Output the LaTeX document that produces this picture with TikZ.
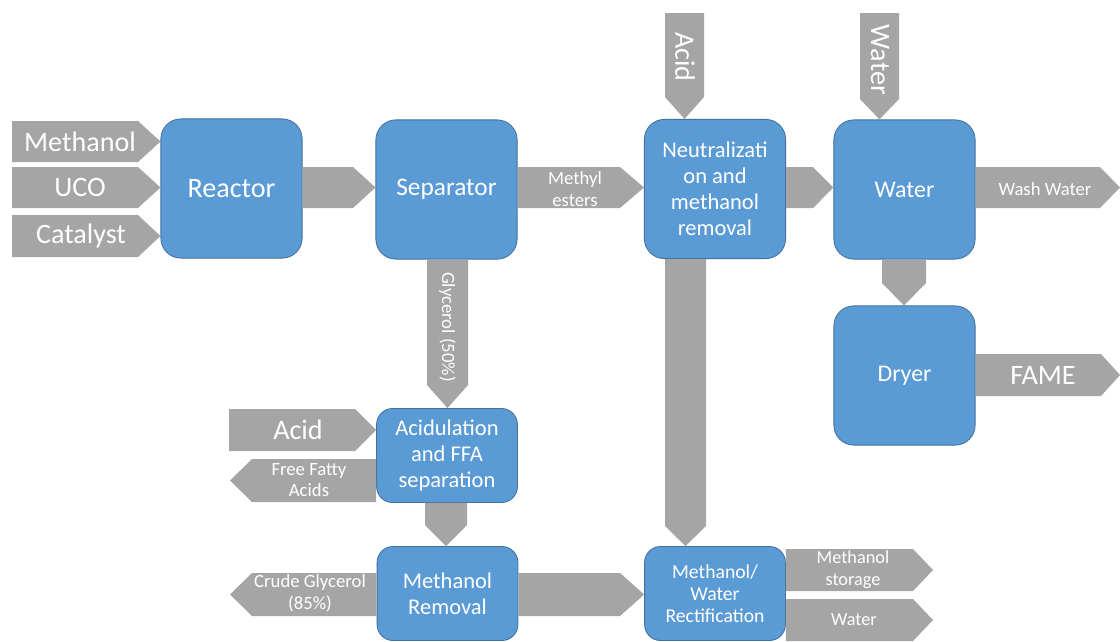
\documentclass[tikz,border=0pt]{standalone}
\usepackage{fontspec}
\setmainfont{Carlito}
\definecolor{boxblue}{HTML}{5B9BD5}
\definecolor{boxedge}{HTML}{41719C}
\definecolor{flowgray}{HTML}{A5A5A5}
\tikzset{
  unit/.style={draw=boxedge, line width=0.6pt, fill=boxblue, rounded corners=0.5cm,
    text=white, align=center, inner sep=0pt},
  bigunit/.style={unit, minimum width=3.53cm, minimum height=3.48cm},
  smallunit/.style={unit, minimum width=3.52cm, minimum height=2.35cm, rounded corners=0.4cm},
  flow/.style={fill=flowgray},
  flowtext/.style={text=white, align=center, inner sep=0pt},
  hugetxt/.style={font=\fontsize{20}{24}\selectfont},
  bigtxt/.style={font=\fontsize{16}{18.5}\selectfont},
  midtxt/.style={font=\fontsize{14}{15.8}\selectfont},
  lowtxt/.style={font=\fontsize{13}{15.8}\selectfont},
  smalltxt/.style={font=\fontsize{13.3}{15.5}\selectfont}
}
\begin{document}
\begin{tikzpicture}[x=0.025cm, y=-0.025cm]
\useasboundingbox (0,0) rectangle (1120,641);

% process units
\node[bigunit, hugetxt] (reactor) at (231.5,188.5) {Reactor};
\node[bigunit, font=\fontsize{18}{20}\selectfont] (sep) at (446.5,189.5) {Separator};
\node[bigunit, bigtxt] (neut) at (715,189) {Neutralizati\\on and\\methanol\\removal};
\node[bigunit, font=\fontsize{17}{20}\selectfont] (wash) at (904.5,189.5) {Water};
\node[bigunit, font=\fontsize{17}{20}\selectfont] (dryer) at (904.5,375.5) {Dryer};
\node[smallunit, bigtxt] (acidul) at (447,455.5) {Acidulation\\and FFA\\separation};
\node[smallunit, bigtxt] (mremove) at (447.5,593.5) {Methanol\\Removal};
\node[smallunit, midtxt] (rect) at (715,593.5) {Methanol/\\Water\\Rectification};

% feed streams into the reactor
\fill[flow] (12,121) -- (138,121) -- (reactor.west |- 0,141.5) -- (138,162) -- (12,162) -- cycle;
\fill[flow] (12,167) -- (138,167) -- (reactor.west |- 0,187.5) -- (138,208) -- (12,208) -- cycle;
\fill[flow] (12,215) -- (138,215) -- (reactor.west |- 0,236) -- (138,257) -- (12,257) -- cycle;
\node[flowtext, hugetxt] (tmeoh) at (80,141.5) {Methanol};
\node[flowtext, hugetxt] (tuco) at (80,187.5) {UCO};
\node[flowtext, hugetxt] (tcat) at (81,236) {Catalyst};

% reactor -> separator
\fill[flow] (reactor.east |- 0,167) -- (353,167) -- (sep.west |- 0,187.5) -- (353,208) -- (reactor.east |- 0,208) -- cycle;

% separator -> neutralization
\fill[flow] (sep.east |- 0,167) -- (620,167) -- (neut.west |- 0,187.5) -- (620,208) -- (sep.east |- 0,208) -- cycle;
\node[flowtext, smalltxt] (tme) at (575,189) {Methyl\\esters};

% neutralization -> washing
\fill[flow] (neut.east |- 0,167) -- (813,167) -- (wash.west |- 0,187.5) -- (813,208) -- (neut.east |- 0,208) -- cycle;

% wash water out
\fill[flow] (wash.east |- 0,167) -- (1100,167) -- (1120,187.5) -- (1100,208) -- (wash.east |- 0,208) -- cycle;
\node[flowtext, smalltxt] (tww) at (1045,189) {Wash Water};

% acid into neutralization
\fill[flow] (665,13) -- (704,13) -- (704,97) -- (neut.north -| 684.5,0) -- (665,97) -- cycle;
\node[flowtext, hugetxt, rotate=-90] (tacid1) at (685,57) {Acid};

% water into washing
\fill[flow] (860,13) -- (899,13) -- (899,99) -- (wash.north -| 879.5,0) -- (860,99) -- cycle;
\node[flowtext, hugetxt, rotate=-90] (twat1) at (880,60) {Water};

% washing -> dryer
\fill[flow] (wash.south -| 882,0) -- (wash.south -| 926,0) -- (926,283) -- (dryer.north -| 904,0) -- (882,283) -- cycle;

% FAME product
\fill[flow] (dryer.east |- 0,354) -- (1101,354) -- (1120,375) -- (1101,396) -- (dryer.east |- 0,396) -- cycle;
\node[flowtext, hugetxt] (tfame) at (1043,375.5) {FAME};

% glycerol phase down to acidulation
\fill[flow] (sep.south -| 427,0) -- (sep.south -| 468,0) -- (468,385) -- (acidul.north -| 447.5,0) -- (427,385) -- cycle;
\node[flowtext, smalltxt, rotate=-90] (tgly) at (447.5,327) {Glycerol (50\%)};

% acid into acidulation
\fill[flow] (229,409) -- (355,409) -- (acidul.west |- 0,430) -- (355,451) -- (229,451) -- cycle;
\node[flowtext, hugetxt] (tacid2) at (298,430) {Acid};

% free fatty acids out
\fill[flow] (acidul.west |- 0,459) -- (252,459) -- (230,480.5) -- (252,502) -- (acidul.west |- 0,502) -- cycle;
\node[flowtext, smalltxt] (tffa) at (309,480) {Free Fatty\\Acids};

% acidulation -> methanol removal
\fill[flow] (acidul.south -| 425,0) -- (acidul.south -| 467,0) -- (467,525) -- (mremove.north -| 446,0) -- (425,525) -- cycle;

% crude glycerol out
\fill[flow] (mremove.west |- 0,573) -- (252,573) -- (230,594.5) -- (252,616) -- (mremove.west |- 0,616) -- cycle;
\node[flowtext, smalltxt] (tcg) at (310,593) {Crude Glycerol\\(85\%)};

% methanol removal -> rectification
\fill[flow] (mremove.east |- 0,573) -- (620,573) -- (rect.west |- 0,594.5) -- (620,616) -- (mremove.east |- 0,616) -- cycle;

% neutralization -> rectification
\fill[flow] (neut.south -| 665,0) -- (neut.south -| 706,0) -- (706,526) -- (rect.north -| 685.5,0) -- (665,526) -- cycle;

% rectification products
\fill[flow] (rect.east |- 0,549) -- (913,549) -- (933,570) -- (913,591) -- (rect.east |- 0,591) -- cycle;
\node[flowtext, lowtxt] (tms) at (853,570) {Methanol\\storage};
\fill[flow] (rect.east |- 0,599) -- (913,599) -- (933,620) -- (913,641) -- (rect.east |- 0,641) -- cycle;
\node[flowtext, lowtxt] (tw2) at (854,620) {Water};
\end{tikzpicture}
\end{document}
